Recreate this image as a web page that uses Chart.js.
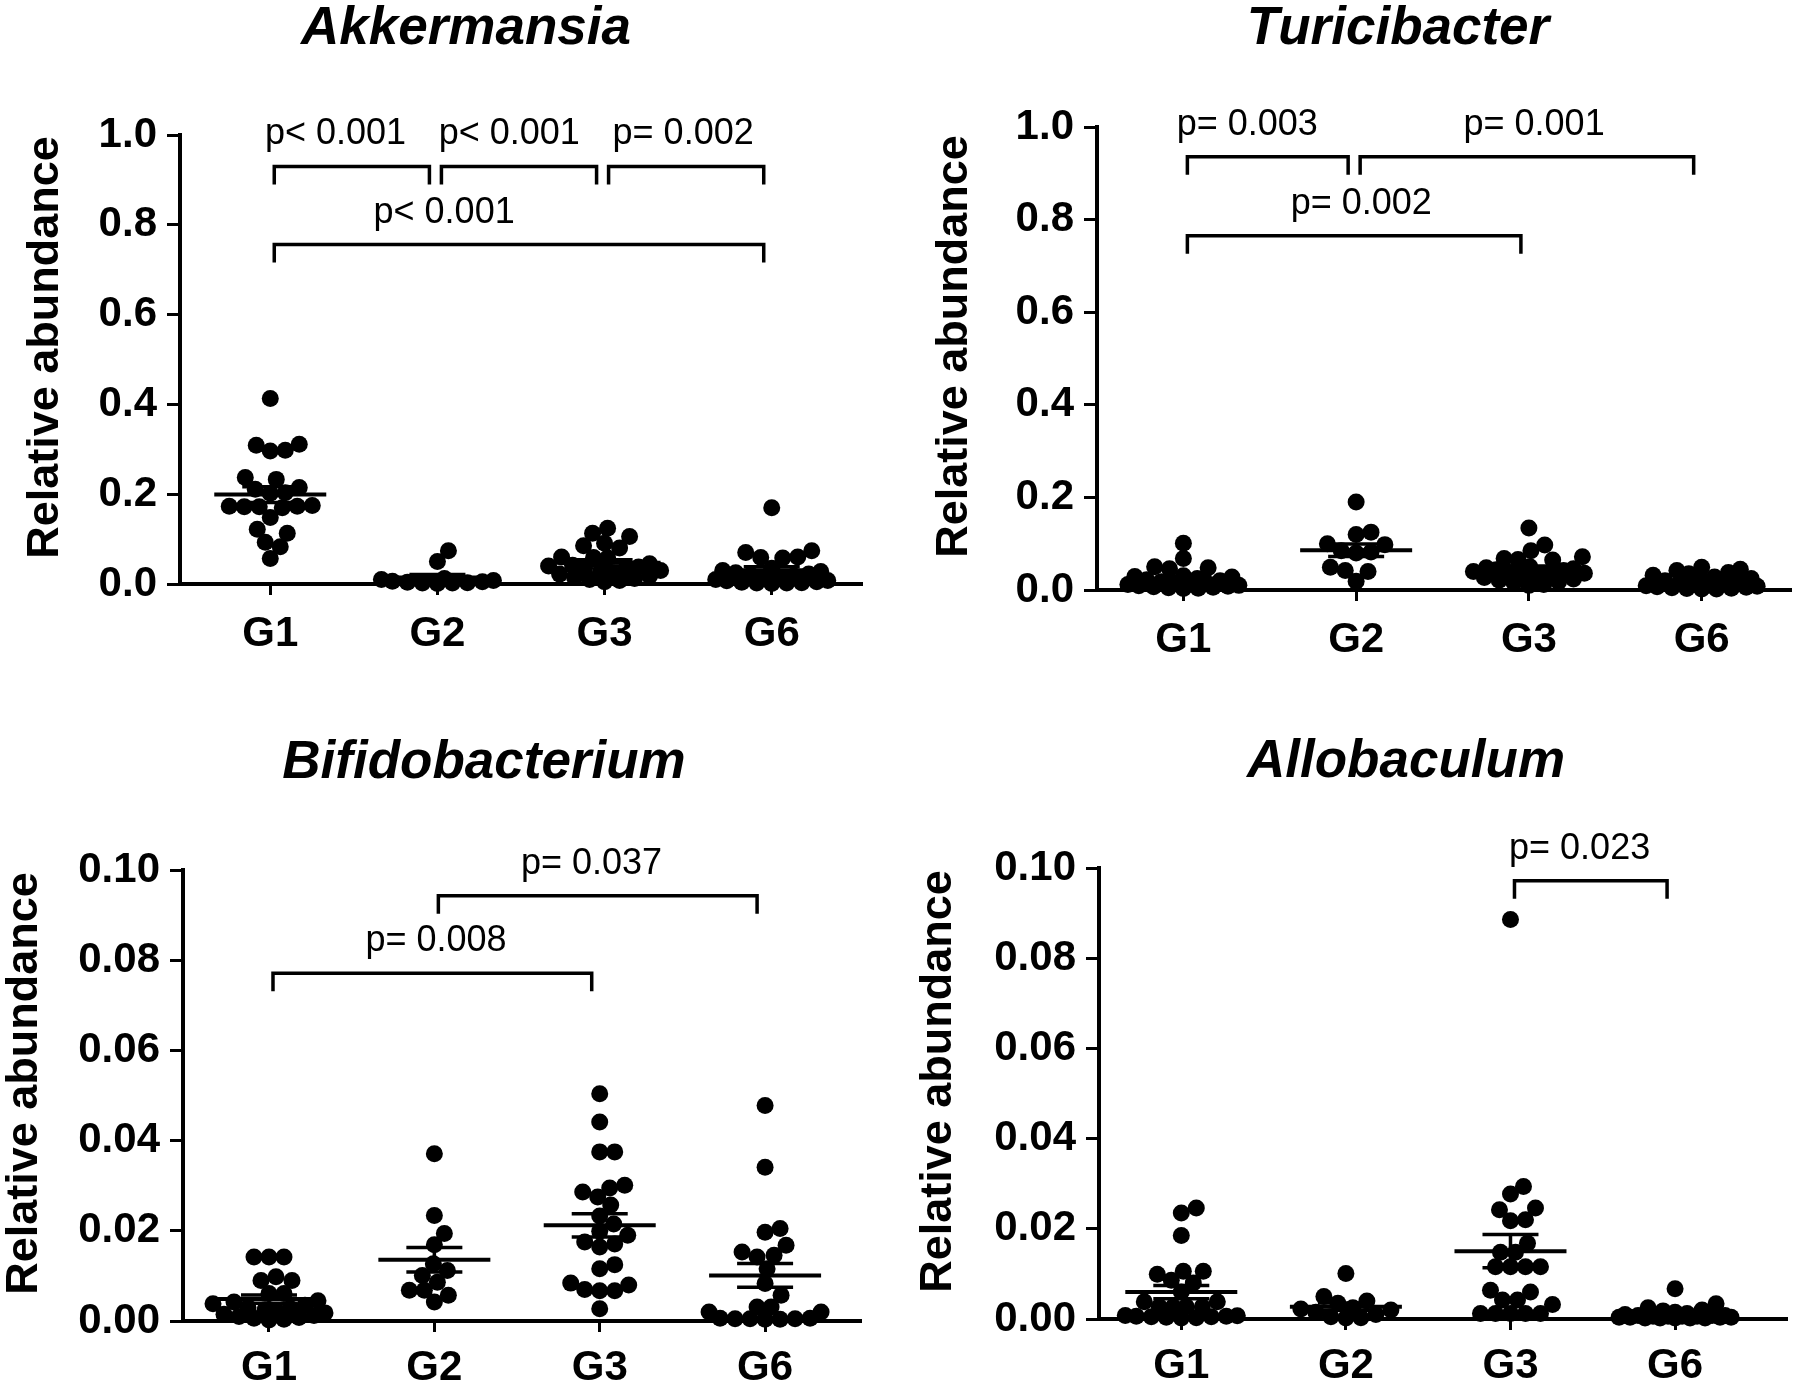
<!DOCTYPE html>
<html>
<head>
<meta charset="utf-8">
<script src="https://cdn.jsdelivr.net/npm/chart.js@4.4.1/dist/chart.umd.min.js"></script>
<style>
  html, body { margin: 0; padding: 0; background: #fff; overflow: hidden; }
  canvas { position: absolute; }
</style>
</head>
<body>
<canvas id="c1" width="900" height="690" style="left:0;top:0"></canvas>
<canvas id="c2" width="900" height="690" style="left:900px;top:0"></canvas>
<canvas id="c3" width="900" height="693" style="left:0;top:690px"></canvas>
<canvas id="c4" width="900" height="693" style="left:900px;top:690px"></canvas>
<script>
// groups on the x axis
var groups = ['G1', 'G2', 'G3', 'G6'];

// Akkermansia, relative abundance per mouse
var akkG1 = [0.413, 0.311, 0.309, 0.298, 0.296, 0.237, 0.233, 0.215, 0.211, 0.203, 0.202, 0.175, 0.173, 0.173, 0.172, 0.172, 0.170, 0.148, 0.122, 0.113, 0.093, 0.083, 0.057];
var akkG2 = [0.074, 0.050, 0.012, 0.010, 0.008, 0.006, 0.005, 0.004, 0.003, 0.002, 0.002, 0.001];
var akkG3 = [0.124, 0.113, 0.106, 0.091, 0.085, 0.080, 0.060, 0.059, 0.058, 0.045, 0.042, 0.040, 0.038, 0.035, 0.032, 0.030, 0.028, 0.025, 0.022, 0.018, 0.015, 0.012, 0.010, 0.008, 0.005];
var akkG6 = [0.170, 0.074, 0.070, 0.060, 0.059, 0.058, 0.035, 0.030, 0.028, 0.025, 0.022, 0.020, 0.018, 0.015, 0.012, 0.010, 0.008, 0.007, 0.005, 0.004, 0.003, 0.002, 0.002, 0.001];

// Turicibacter
var turG1 = [0.101, 0.068, 0.050, 0.048, 0.046, 0.031, 0.029, 0.028, 0.025, 0.022, 0.020, 0.018, 0.016, 0.015, 0.013, 0.012, 0.010, 0.009, 0.008, 0.007, 0.006, 0.005, 0.004, 0.003];
var turG2 = [0.190, 0.125, 0.120, 0.100, 0.098, 0.085, 0.082, 0.080, 0.049, 0.042, 0.040, 0.019];
var turG3 = [0.134, 0.097, 0.085, 0.072, 0.068, 0.066, 0.065, 0.050, 0.048, 0.046, 0.044, 0.042, 0.040, 0.038, 0.036, 0.034, 0.032, 0.030, 0.027, 0.024, 0.021, 0.018, 0.015, 0.012, 0.010];
var turG6 = [0.049, 0.045, 0.042, 0.038, 0.035, 0.032, 0.028, 0.025, 0.022, 0.020, 0.018, 0.016, 0.014, 0.012, 0.010, 0.009, 0.008, 0.007, 0.006, 0.005, 0.004, 0.003, 0.002, 0.002];

// Bifidobacterium
var bifG1 = [0.0142, 0.0142, 0.0142, 0.0098, 0.0090, 0.0090, 0.0061, 0.0061, 0.0045, 0.0042, 0.0038, 0.0035, 0.0030, 0.0028, 0.0025, 0.0022, 0.0018, 0.0015, 0.0012, 0.0010, 0.0008, 0.0006, 0.0004, 0.0002];
var bifG2 = [0.0371, 0.0234, 0.0194, 0.0169, 0.0127, 0.0112, 0.0101, 0.0086, 0.0068, 0.0068, 0.0057, 0.0042];
var bifG3 = [0.0504, 0.0441, 0.0375, 0.0375, 0.0301, 0.0295, 0.0286, 0.0275, 0.0257, 0.0233, 0.0215, 0.0199, 0.0190, 0.0175, 0.0171, 0.0164, 0.0125, 0.0116, 0.0084, 0.0080, 0.0070, 0.0067, 0.0067, 0.0027];
var bifG6 = [0.0478, 0.0341, 0.0205, 0.0197, 0.0168, 0.0153, 0.0146, 0.0142, 0.0116, 0.0083, 0.0057, 0.0031, 0.0031, 0.0020, 0.0020, 0.0006, 0.0005, 0.0005, 0.0004, 0.0005, 0.0006, 0.0004];

// Allobaculum
var allG1 = [0.0246, 0.0235, 0.0185, 0.0106, 0.0106, 0.0099, 0.0086, 0.0080, 0.0060, 0.0038, 0.0038, 0.0027, 0.0027, 0.0027, 0.0027, 0.0008, 0.0007, 0.0006, 0.0006, 0.0005, 0.0005, 0.0004, 0.0003, 0.0002];
var allG2 = [0.0101, 0.0050, 0.0040, 0.0035, 0.0025, 0.0022, 0.0020, 0.0015, 0.0010, 0.0005, 0.0003, 0.0002];
var allG3 = [0.0886, 0.0294, 0.0277, 0.0246, 0.0242, 0.0220, 0.0218, 0.0168, 0.0148, 0.0148, 0.0116, 0.0116, 0.0116, 0.0116, 0.0064, 0.0060, 0.0042, 0.0042, 0.0032, 0.0012, 0.0012, 0.0012, 0.0012, 0.0012];
var allG6 = [0.0067, 0.0034, 0.0025, 0.0020, 0.0018, 0.0015, 0.0012, 0.0010, 0.0008, 0.0008, 0.0008, 0.0006, 0.0006, 0.0006, 0.0006, 0.0004, 0.0004, 0.0004, 0.0004, 0.0002, 0.0002, 0.0002, 0.0002, 0.0002];

// significance brackets: [from group, to group, bracket height, text, text centre (group units)]
var akkBrackets = [[0, 1, 0.930, 'p< 0.001', 0.39], [1, 2, 0.930, 'p< 0.001', 1.43], [2, 3, 0.930, 'p= 0.002', 2.47], [0, 3, 0.756, 'p< 0.001', 1.04]];
var turBrackets = [[0, 1, 0.936, 'p= 0.003', 0.37], [1, 3, 0.936, 'p= 0.001', 2.03], [0, 2, 0.765, 'p= 0.002', 1.03]];
var bifBrackets = [[1, 3, 0.0943, 'p= 0.037', 1.95], [0, 2, 0.0771, 'p= 0.008', 1.01]];
var allBrackets = [[2, 3, 0.0972, 'p= 0.023', 2.42]];

var FONT = '"Liberation Sans", Arial, Helvetica, sans-serif';

// per-panel layout (canvas pixels)
var panels = [
  {id: 'c1', title: 'Akkermansia', values: [akkG1, akkG2, akkG3, akkG6], brackets: akkBrackets, yMax: 1, yStep: 0.2, digits: 1,
   pad: {left: 0, right: 38, top: 135, bottom: 26}, yAxisW: 180, xAxisH: 80, xMin: -0.54, xMax: 3.54, tickPad: 14,
   titleX: 466, titleY: 44, yTitleX: 46},
  {id: 'c2', title: 'Turicibacter', values: [turG1, turG2, turG3, turG6], brackets: turBrackets, yMax: 1, yStep: 0.2, digits: 1,
   pad: {left: 0, right: 2, top: 127, bottom: 20}, yAxisW: 197, xAxisH: 80, xMin: -0.5, xMax: 3.52, tickPad: 14,
   titleX: 498, titleY: 44, yTitleX: 55},
  {id: 'c3', title: 'Bifidobacterium', values: [bifG1, bifG2, bifG3, bifG6], brackets: bifBrackets, yMax: 0.1, yStep: 0.02, digits: 2,
   pad: {left: 0, right: 39, top: 180, bottom: 0}, yAxisW: 183, xAxisH: 62, xMin: -0.52, xMax: 3.58, tickPad: 11,
   titleX: 484, titleY: 88, yTitleX: 25},
  {id: 'c4', title: 'Allobaculum', values: [allG1, allG2, allG3, allG6], brackets: allBrackets, yMax: 0.1, yStep: 0.02, digits: 2,
   pad: {left: 0, right: 13, top: 178, bottom: 0}, yAxisW: 199, xAxisH: 64, xMin: -0.5, xMax: 3.68, tickPad: 11,
   titleX: 506, titleY: 87, yTitleX: 39}
];

function mean(a) { return a.reduce(function (s, v) { return s + v; }, 0) / a.length; }
function sem(a) {
  var m = mean(a);
  var ss = a.reduce(function (s, v) { return s + (v - m) * (v - m); }, 0);
  return Math.sqrt(ss / (a.length - 1)) / Math.sqrt(a.length);
}

// beeswarm spread in pixel space, kept inside the width of the mean line
function swarm(vals, pxPerY, pxPerSlot) {
  var maxHalf = 56;
  var order = vals.map(function (v, i) { return i; }).sort(function (a, b) { return vals[a] - vals[b]; });
  var placed = [], offs = [];
  order.forEach(function (i) {
    var py = vals[i] * pxPerY, x = null, d = 15;
    while (x === null) {
      for (var k = 0; k <= 2 * maxHalf; k++) {
        var cand = (k % 2 ? 1 : -1) * Math.ceil(k / 2);
        var ok = placed.every(function (p) { return Math.hypot(p.x - cand, p.y - py) >= d; });
        if (ok) { x = cand; break; }
      }
      d *= 0.9;
    }
    placed.push({x: x, y: py});
    offs[i] = x / pxPerSlot;
  });
  return offs;
}

var decor = {
  id: 'decor',
  afterDatasetsDraw: function (chart) {
    var p = chart.config.options.panel;
    var xs = chart.scales.x, ys = chart.scales.y, ctx = chart.ctx;
    ctx.save();
    ctx.strokeStyle = '#000';
    ctx.lineCap = 'butt';
    p.values.forEach(function (vals, gi) {
      var cx = xs.getPixelForValue(gi);
      var m = mean(vals), e = sem(vals);
      var ym = ys.getPixelForValue(m), yt = ys.getPixelForValue(m + e), yb = ys.getPixelForValue(m - e);
      ctx.lineWidth = 4;
      ctx.beginPath(); ctx.moveTo(cx - 56, ym); ctx.lineTo(cx + 56, ym); ctx.stroke();
      ctx.lineWidth = 3.5;
      ctx.beginPath();
      ctx.moveTo(cx, yt); ctx.lineTo(cx, yb);
      ctx.moveTo(cx - 28, yt); ctx.lineTo(cx + 28, yt);
      ctx.moveTo(cx - 28, yb); ctx.lineTo(cx + 28, yb);
      ctx.stroke();
    });
    ctx.restore();
  },
  afterDraw: function (chart) {
    var p = chart.config.options.panel;
    var xs = chart.scales.x, ys = chart.scales.y, ctx = chart.ctx, area = chart.chartArea;
    ctx.save();
    ctx.fillStyle = '#000';
    ctx.strokeStyle = '#000';
    ctx.lineWidth = 3.5;
    ctx.lineJoin = 'miter';
    ctx.font = '36px ' + FONT;
    ctx.textAlign = 'center';
    ctx.textBaseline = 'alphabetic';
    p.brackets.forEach(function (b) {
      var x1 = xs.getPixelForValue(b[0]) + 4, x2 = xs.getPixelForValue(b[1]) - 8;
      var y = ys.getPixelForValue(b[2]);
      ctx.beginPath();
      ctx.moveTo(x1, y + 18); ctx.lineTo(x1, y); ctx.lineTo(x2, y); ctx.lineTo(x2, y + 18);
      ctx.stroke();
      ctx.fillText(b[3], xs.getPixelForValue(b[4]), y - 22);
    });
    ctx.font = 'italic bold 53px ' + FONT;
    ctx.fillText(p.title, p.titleX, p.titleY);
    // y axis title
    ctx.translate(p.yTitleX, (area.top + area.bottom) / 2 - 12);
    ctx.rotate(-Math.PI / 2);
    ctx.textBaseline = 'middle';
    ctx.font = 'bold 45px ' + FONT;
    ctx.fillText('Relative abundance', 0, 0);
    ctx.restore();
  }
};

panels.forEach(function (p) {
  var canvas = document.getElementById(p.id);
  var plotW = canvas.width - p.pad.left - p.pad.right - p.yAxisW;
  var plotH = canvas.height - p.pad.top - p.pad.bottom - p.xAxisH;
  var points = [];
  p.values.forEach(function (vals, gi) {
    var offs = swarm(vals, plotH / p.yMax, plotW / (p.xMax - p.xMin));
    vals.forEach(function (v, j) { points.push({x: gi + offs[j], y: v}); });
  });

  new Chart(canvas, {
    type: 'scatter',
    data: {
      datasets: [{
        data: points,
        backgroundColor: '#000',
        borderWidth: 0,
        pointRadius: 8.5,
        pointHoverRadius: 8.5,
        clip: false
      }]
    },
    options: {
      panel: p,
      responsive: false,
      animation: false,
      layout: {padding: p.pad},
      plugins: {legend: {display: false}, tooltip: {enabled: false}, title: {display: false}},
      scales: {
        x: {
          type: 'linear',
          min: p.xMin,
          max: p.xMax,
          afterBuildTicks: function (s) { s.ticks = groups.map(function (g, i) { return {value: i}; }); },
          afterFit: function (s) { s.height = p.xAxisH; },
          border: {display: true, width: 4, color: '#000'},
          grid: {drawOnChartArea: false, drawTicks: true, tickLength: 11, tickWidth: 3, tickColor: '#000'},
          ticks: {
            autoSkip: false, maxRotation: 0, padding: p.tickPad, color: '#000',
            font: {family: FONT, size: 42, weight: 'bold'},
            callback: function (v) { return groups[v]; }
          }
        },
        y: {
          min: 0,
          max: p.yMax,
          afterFit: function (s) { s.width = p.yAxisW; },
          border: {display: true, width: 4, color: '#000'},
          grid: {drawOnChartArea: false, drawTicks: true, tickLength: 13, tickWidth: 3, tickColor: '#000'},
          ticks: {
            stepSize: p.yStep, padding: 10, color: '#000',
            font: {family: FONT, size: 42, weight: 'bold'},
            callback: function (v) { return v.toFixed(p.digits); }
          }
        }
      }
    },
    plugins: [decor]
  });
});
</script>
</body>
</html>
